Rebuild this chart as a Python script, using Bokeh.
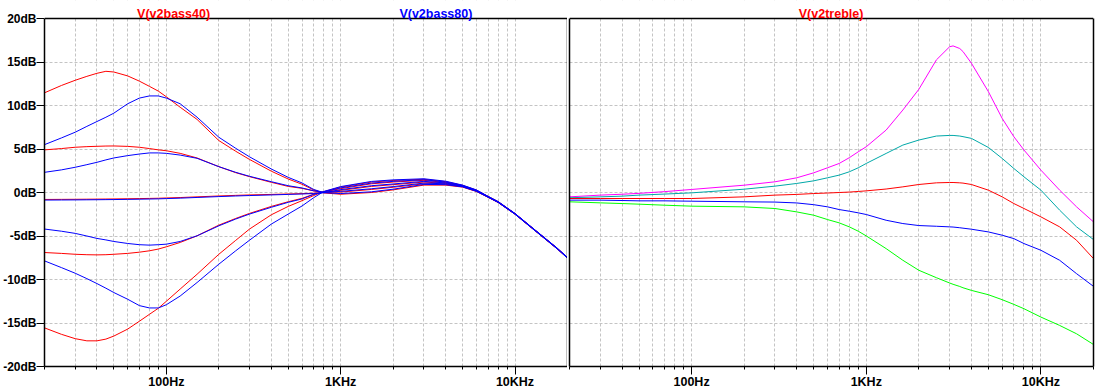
from bokeh.plotting import figure
from bokeh.layouts import row
from bokeh.models import (FixedTicker, CustomJSTickFormatter, Label, Range1d, LinearAxis,
                          BoxAnnotation, Span)
from bokeh.embed import file_html
from bokeh.resources import INLINE

# ---------------- data ----------------
F_BASS = [20, 25, 30, 35, 40, 45, 50, 60, 70, 80, 90, 100, 120, 150, 200, 250, 300, 400,
          500, 600, 700, 800, 1000, 1500, 2000, 3000, 4000, 5000, 6000, 7000, 8000, 10000,
          12500, 15000, 17500, 20000]

BASS40_P14 = [11.46, 12.3, 12.9, 13.35, 13.7, 13.93, 13.85, 13.4, 12.8, 12.2, 11.65, 11.0, 9.8, 8.4,
              5.97, 4.74, 3.8, 2.45, 1.55, 0.95, 0.3, -0.05, -0.2, 0.0, 0.3, 0.85, 0.85, 0.62, 0.12,
              -0.55, -1.15, -2.5, -4.1, -5.4, -6.5, -7.55]
BASS40_P5 = [4.9, 5.05, 5.2, 5.27, 5.31, 5.34, 5.35, 5.3, 5.2, 5.05, 4.9, 4.8, 4.5, 3.97, 2.97, 2.28,
             1.82, 1.17, 0.7, 0.48, 0.18, 0.0, 0.05, 0.35, 0.6, 1.0, 0.95, 0.67, 0.16, -0.52, -1.13,
             -2.48, -4.08, -5.38, -6.48, -7.53]
BASS40_0 = [-0.8, -0.79, -0.78, -0.77, -0.76, -0.75, -0.74, -0.72, -0.7, -0.68, -0.66, -0.63, -0.58,
            -0.5, -0.4, -0.33, -0.28, -0.22, -0.17, -0.13, -0.08, 0.0, 0.25, 0.7, 0.9, 1.2, 1.05,
            0.72, 0.2, -0.5, -1.1, -2.46, -4.06, -5.36, -6.46, -7.52]
BASS40_M7 = [-6.9, -7.0, -7.1, -7.15, -7.17, -7.15, -7.1, -7.0, -6.86, -6.7, -6.5, -6.24, -5.74, -4.98,
             -3.75, -2.98, -2.4, -1.6, -1.06, -0.67, -0.2, 0.06, 0.45, 1.0, 1.2, 1.4, 1.15, 0.77,
             0.24, -0.47, -1.08, -2.44, -4.04, -5.34, -6.44, -7.5]
BASS40_M17 = [-15.56, -16.3, -16.8, -17.05, -17.05, -16.85, -16.5, -15.7, -14.8, -14.0, -13.3, -12.5,
              -11.1, -9.4, -7.1, -5.5, -4.2, -2.56, -1.6, -0.94, -0.35, 0.1, 0.62, 1.2, 1.38, 1.52,
              1.25, 0.82, 0.28, -0.45, -1.05, -2.42, -4.02, -5.32, -6.42, -7.48]

BASS80_P11 = [5.5, 6.27, 6.93, 7.6, 8.16, 8.65, 9.12, 10.2, 10.85, 11.1, 11.1, 10.85, 10.2, 8.66, 6.35,
              5.08, 4.1, 2.7, 1.74, 1.1, 0.35, -0.02, -0.12, 0.08, 0.38, 0.93, 0.9, 0.65, 0.14, -0.54,
              -1.14, -2.5, -4.1, -5.4, -6.5, -7.55]
BASS80_P4 = [2.32, 2.6, 2.9, 3.2, 3.47, 3.75, 3.97, 4.24, 4.42, 4.55, 4.55, 4.5, 4.3, 3.93, 2.97, 2.32,
             1.86, 1.24, 0.78, 0.52, 0.2, 0.02, 0.13, 0.43, 0.68, 1.08, 1.0, 0.7, 0.18, -0.51,
             -1.12, -2.47, -4.07, -5.37, -6.47, -7.52]
BASS80_0 = [-0.87, -0.86, -0.85, -0.84, -0.83, -0.82, -0.81, -0.79, -0.77, -0.75, -0.73, -0.7, -0.65,
            -0.57, -0.47, -0.4, -0.35, -0.28, -0.22, -0.17, -0.12, -0.03, 0.33, 0.78, 0.98, 1.28, 1.1,
            0.75, 0.22, -0.49, -1.09, -2.45, -4.05, -5.35, -6.45, -7.51]
BASS80_M6 = [-4.2, -4.45, -4.7, -5.0, -5.28, -5.45, -5.63, -5.86, -6.0, -6.05, -6.0, -5.94, -5.63, -4.98,
             -3.83, -3.05, -2.48, -1.7, -1.13, -0.74, -0.22, 0.08, 0.53, 1.08, 1.28, 1.47, 1.2, 0.8,
             0.26, -0.46, -1.07, -2.43, -4.03, -5.33, -6.43, -7.49]
BASS80_M13 = [-7.86, -8.63, -9.28, -9.9, -10.47, -11.0, -11.5, -12.27, -13.0, -13.27, -13.27, -12.9,
              -11.9, -10.35, -8.24, -6.7, -5.48, -3.63, -2.48, -1.55, -0.6, 0.12, 0.68, 1.27, 1.45,
              1.58, 1.3, 0.85, 0.3, -0.44, -1.04, -2.41, -4.01, -5.31, -6.41, -7.47]

F_TREBLE = [20, 30, 40, 50, 70, 100, 200, 300, 400, 500, 600, 700, 800, 900, 1000, 1300, 1620, 2000,
            2520, 3000, 3140, 3430, 3580, 4000, 5000, 6000, 7000, 8000, 10000, 12800, 16000, 20000]

TREBLE_MAX = [-0.5, -0.3, -0.2, -0.1, 0.1, 0.35, 0.84, 1.23, 1.69, 2.26, 2.84, 3.34, 4.0, 4.68, 5.26,
              7.18, 9.48, 11.86, 15.24, 16.75, 16.85, 16.55, 16.2, 14.86, 11.6, 8.52, 6.41, 4.88,
              2.57, 0.27, -1.65, -3.38]
TREBLE_HIGH = [-0.6, -0.5, -0.42, -0.3, -0.18, -0.04, 0.38, 0.73, 1.04, 1.34, 1.69, 2.0, 2.38, 2.84,
               3.34, 4.49, 5.45, 6.03, 6.49, 6.56, 6.56, 6.49, 6.42, 6.22, 5.18, 3.92, 2.76, 1.8,
               0.27, -2.03, -3.95, -5.41]
TREBLE_MID = [-0.69, -0.69, -0.69, -0.69, -0.69, -0.69, -0.5, -0.3, -0.22, -0.12, -0.06, 0.0, 0.05,
              0.12, 0.19, 0.4, 0.65, 0.92, 1.11, 1.15, 1.15, 1.11, 1.08, 0.92, 0.27, -0.5, -1.27,
              -1.84, -2.8, -3.95, -5.49, -7.6]
TREBLE_LOW = [-0.88, -0.88, -0.92, -0.96, -0.96, -1.0, -1.07, -1.1, -1.2, -1.4, -1.65, -1.96, -2.15,
              -2.34, -2.53, -3.19, -3.57, -3.8, -3.88, -3.95, -3.97, -4.05, -4.1, -4.22, -4.53, -4.91,
              -5.3, -5.87, -6.64, -7.79, -9.33, -10.79]
TREBLE_MIN = [-1.07, -1.19, -1.27, -1.34, -1.46, -1.57, -1.65, -1.84, -2.23, -2.61, -3.11, -3.49, -3.95,
              -4.45, -4.99, -6.45, -7.79, -8.94, -9.79, -10.4, -10.55, -10.8, -10.95, -11.25, -11.75,
              -12.32, -12.86, -13.36, -14.32, -15.28, -16.24, -17.47]

Y_TICKS = [-20, -15, -10, -5, 0, 5, 10, 15, 20]
X_MAJOR = [100, 1000, 10000]
X_MINOR = [20, 30, 40, 50, 60, 70, 80, 90, 200, 300, 400, 500, 600, 700, 800, 900,
           2000, 3000, 4000, 5000, 6000, 7000, 8000, 9000, 20000]

TITLE_BASS40 = "V(v2bass40)"
TITLE_BASS80 = "V(v2bass80)"
TITLE_TREBLE = "V(v2treble)"

# ---------------- style ----------------
FONT = "Liberation Sans"
GRID = "#c4c4c4"
RED = "#ff0000"
BLUE = "#0000ff"
MAGENTA = "#ff00ff"
CYAN = "#00a8a8"
GREEN = "#00ff00"

Y_MIN, Y_MAX = -20, 20
# the frame is extended upward by 18 px (title strip); 348 px hold the 40 dB span
Y_TOP = Y_MAX + 18 * (Y_MAX - Y_MIN) / 348.0


def border_axis(p, side):
    ax = LinearAxis(ticker=FixedTicker(ticks=[]), bounds=(Y_MIN, Y_MAX),
                    axis_line_color="black", axis_line_width=1.5,
                    major_tick_out=0, major_tick_in=0, minor_tick_out=0, minor_tick_in=0,
                    major_label_standoff=0, major_label_text_font_size="0px")
    p.add_layout(ax, side)


def make_panel(with_y, border_left, border_right, frame_w):
    p = figure(x_axis_type="log", x_range=Range1d(20, 20000), y_range=Range1d(Y_MIN, Y_TOP),
               frame_width=frame_w, frame_height=366,
               y_axis_location="left" if with_y else None,
               min_border_left=border_left, min_border_right=border_right,
               min_border_top=0, min_border_bottom=0,
               output_backend="svg", toolbar_location=None,
               background_fill_color="white", border_fill_color="white")
    p.outline_line_color = None

    xa = p.xaxis[0]
    xa.ticker = FixedTicker(ticks=X_MAJOR, minor_ticks=X_MINOR)
    xa.formatter = CustomJSTickFormatter(
        code="return tick >= 1000 ? (tick / 1000) + 'KHz' : tick + 'Hz';")
    xa.major_tick_out = 8
    xa.major_tick_in = 0
    xa.minor_tick_out = 3
    xa.minor_tick_in = 0
    xa.major_tick_line_color = "black"
    xa.minor_tick_line_color = "black"
    xa.axis_line_color = "black"
    xa.axis_line_width = 1.5
    xa.major_label_standoff = 0
    xa.major_label_text_font = FONT
    xa.major_label_text_font_style = "bold"
    xa.major_label_text_font_size = "12.5px"
    xa.major_label_text_color = "black"

    if with_y:
        ya = p.yaxis[0]
        ya.ticker = FixedTicker(ticks=Y_TICKS)
        ya.bounds = (Y_MIN, Y_MAX)
        ya.formatter = CustomJSTickFormatter(code="return tick + 'dB';")
        ya.major_tick_out = 8
        ya.major_tick_in = 0
        ya.minor_tick_out = 0
        ya.minor_tick_in = 0
        ya.major_tick_line_color = "black"
        ya.axis_line_color = "black"
        ya.axis_line_width = 1.5
        ya.major_label_standoff = 0
        ya.major_label_text_font = FONT
        ya.major_label_text_font_style = "bold"
        ya.major_label_text_font_size = "12px"
        ya.major_label_text_color = "black"
    else:
        border_axis(p, "left")
    border_axis(p, "right")

    p.xgrid.ticker = FixedTicker(ticks=X_MAJOR, minor_ticks=X_MINOR)
    p.ygrid.ticker = FixedTicker(ticks=Y_TICKS)
    for g in list(p.xgrid) + list(p.ygrid):
        g.grid_line_color = GRID
        g.grid_line_dash = "3 2"
        g.grid_line_width = 1
    for g in p.xgrid:
        g.minor_grid_line_color = GRID
        g.minor_grid_line_dash = "3 2"
        g.minor_grid_line_width = 1
    return p


def finish_top(p, titles):
    # white title strip above the plotting area, then the top border line
    p.add_layout(BoxAnnotation(bottom=Y_MAX, fill_color="white", fill_alpha=1.0, line_color=None))
    p.add_layout(Span(location=Y_MAX, dimension="width", line_color="black", line_width=1.5))
    for x, text, color in titles:
        p.add_layout(Label(x=x, y=Y_MAX, y_offset=5, text=text, text_color=color,
                           text_align="center", text_baseline="alphabetic",
                           text_font=FONT, text_font_style="bold", text_font_size="12.5px"))


# left panel: bass
p1 = make_panel(True, 44, 0, 523)
for ys in (BASS40_P14, BASS40_P5, BASS40_0, BASS40_M7, BASS40_M17):
    p1.line(F_BASS, ys, line_color=RED, line_width=1)
for ys in (BASS80_P11, BASS80_P4, BASS80_0, BASS80_M6, BASS80_M13):
    p1.line(F_BASS, ys, line_color=BLUE, line_width=1)
finish_top(p1, [(110, TITLE_BASS40, RED), (3516, TITLE_BASS80, BLUE)])

# right panel: treble
p2 = make_panel(False, 2, 2, 524)
for ys, c in ((TREBLE_MAX, MAGENTA), (TREBLE_HIGH, CYAN), (TREBLE_MID, RED),
              (TREBLE_LOW, BLUE), (TREBLE_MIN, GREEN)):
    p2.line(F_TREBLE, ys, line_color=c, line_width=1)
finish_top(p2, [(629, TITLE_TREBLE, RED)])

layout = row(p1, p2)

open("out.html", "w").write(file_html(layout, INLINE))
